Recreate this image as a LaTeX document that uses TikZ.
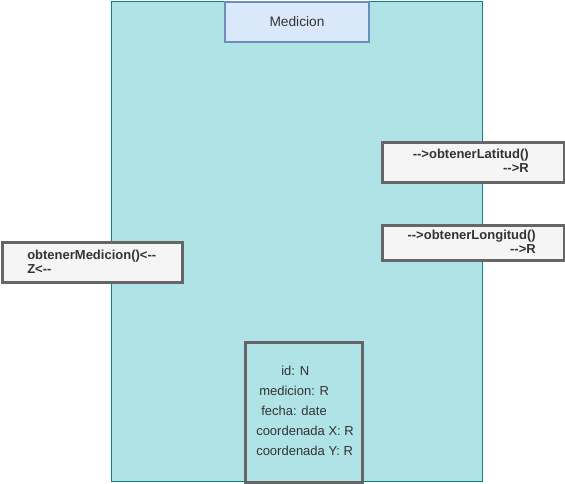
\documentclass[tikz,border=0pt]{standalone}
\usepackage{fontspec}
\setmainfont{Liberation Sans}
\definecolor{fondoClase}{HTML}{B0E3E6}
\definecolor{bordeClase}{HTML}{0E8088}
\definecolor{fondoTitulo}{HTML}{DAE8FC}
\definecolor{bordeTitulo}{HTML}{6C8EBF}
\definecolor{fondoMetodo}{HTML}{F5F5F5}
\definecolor{bordeMetodo}{HTML}{666666}
\definecolor{texto}{HTML}{333333}
\begin{document}
\begin{tikzpicture}
      [x=0.75pt,y=-0.75pt,
      caja/.style={rectangle, anchor=north west, inner sep=0pt},
      clase/.style={caja, draw=bordeClase, fill=fondoClase, line width=0.75pt},
      titulo/.style={caja, draw=bordeTitulo, fill=fondoTitulo, line width=1.5pt,
        text=texto, font=\fontsize{10.3}{12}\selectfont},
      metodo/.style={caja, draw=bordeMetodo, fill=fondoMetodo, line width=2.25pt},
      atributos/.style={caja, draw=bordeMetodo, line width=2.25pt},
      etiqueta/.style={inner sep=0pt, text=texto, font=\fontsize{9.75}{10.5}\selectfont},
      negrita/.style={etiqueta, font=\fontsize{9.75}{10.5}\selectfont\bfseries}]
      \useasboundingbox (0,0) rectangle (565,483);
      % clase Medicion
      \node[clase, minimum width=278.25pt, minimum height=360pt] (medicion) at (111,1) {};
      \node[titulo, minimum width=108pt, minimum height=30pt] (titulo) at (224,1) {Medicion};
      % metodos
      \node[metodo, minimum width=136.5pt, minimum height=30pt] (latitud) at (381,141) {};
      \node[metodo, minimum width=136.5pt, minimum height=26.25pt] (longitud) at (381,224) {};
      \node[metodo, minimum width=135pt, minimum height=30pt] (obtener) at (1,241) {};
      \node[negrita, align=right, anchor=east] (latitudTexto) at (529,161)
        {-{}->obtenerLatitud()\\-{}->R};
      \node[negrita, align=right, anchor=east] (longitudTexto) at (536,242)
        {-{}->obtenerLongitud()\\-{}->R};
      \node[negrita, align=left, anchor=west] (obtenerTexto) at (27,262)
        {obtenerMedicion()<-{}-\\Z<-{}-};
      % atributos
      \node[atributos, minimum width=87.75pt, minimum height=105pt] (attrs) at (244,341) {};
      \node[etiqueta, anchor=west] (id) at (281,371) {id: N};
      \node[etiqueta, anchor=west] (valor) at (259,391) {medicion: R};
      \node[etiqueta, anchor=west] (fecha) at (261,411) {fecha: date};
      \node[etiqueta, anchor=west] (coordX) at (256,431) {coordenada X: R};
      \node[etiqueta, anchor=west] (coordY) at (256,451) {coordenada Y: R};
    \end{tikzpicture}
\end{document}
